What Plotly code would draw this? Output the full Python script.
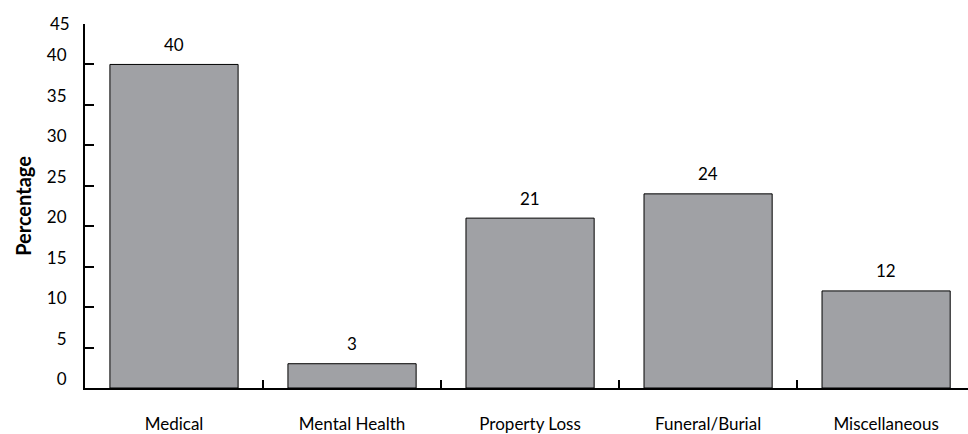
import plotly.graph_objects as go

categories = ["Medical", "Mental Health", "Property Loss", "Funeral/Burial", "Miscellaneous"]
values = [40, 3, 21, 24, 12]
y_ticks = [0, 5, 10, 15, 20, 25, 30, 35, 40, 45]

FONT = "Lato, 'Open Sans', sans-serif"

fig = go.Figure()
fig.add_trace(go.Bar(
    x=categories, y=values, width=0.72,
    marker=dict(color="#a0a1a5", line=dict(color="#000000", width=1)),
))
for c, v in zip(categories, values):
    fig.add_annotation(x=c, y=v, text=str(v), showarrow=False, yshift=20,
                       font=dict(family=FONT, size=17, color="#000"))

# top tick label sits level with its tick in the reference; others sit above
tick_text = [str(t) for t in y_ticks[:-1]] + [""]
fig.add_annotation(xref="paper", x=0, y=y_ticks[-1], text=str(y_ticks[-1]),
                   showarrow=False, xanchor="right", xshift=-13, yshift=1,
                   font=dict(family=FONT, size=17, color="#000"))

fig.update_layout(
    width=968, height=434,
    margin=dict(l=85, r=0, t=24, b=44),
    plot_bgcolor="white", paper_bgcolor="white",
    showlegend=False, bargap=0.28,
    font=dict(family=FONT, size=17, color="#000"),
)
fig.update_xaxes(
    range=[-0.5, 4.46], showline=True, linecolor="#000", linewidth=2,
    ticks="inside", tickson="boundaries", ticklen=8, tickwidth=2, tickcolor="#000",
    ticklabelstandoff=20, showgrid=False, tickfont=dict(size=17),
)
fig.update_yaxes(
    range=[0, 45], tickvals=y_ticks, ticktext=tick_text,
    showline=True, linecolor="#000", linewidth=2,
    ticks="inside", ticklen=9, tickwidth=2, tickcolor="#000",
    ticklabelshift=-9, ticklabelstandoff=13, showgrid=False, zeroline=False,
    tickfont=dict(size=17),
    title=dict(text="<b>Percentage</b>", font=dict(size=20), standoff=10),
)
fig.write_html("out.html")
